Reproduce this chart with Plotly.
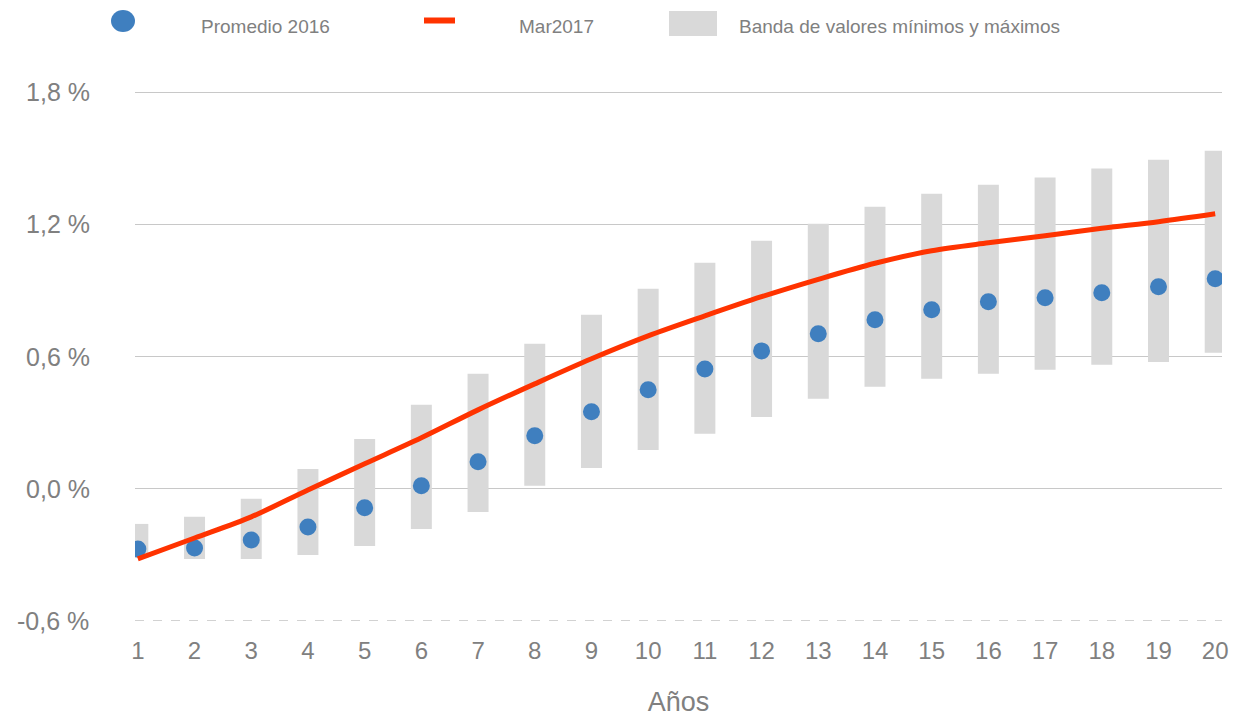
import plotly.graph_objects as go

years = list(range(1, 21))
promedio_2016 = [-0.273, -0.268, -0.232, -0.173, -0.086, 0.014, 0.123, 0.241, 0.350, 0.450,
                 0.545, 0.627, 0.705, 0.768, 0.814, 0.850, 0.868, 0.891, 0.918, 0.955]
mar_2017 = [-0.318, -0.223, -0.127, -0.005, 0.114, 0.232, 0.359, 0.477, 0.591, 0.695,
            0.786, 0.873, 0.952, 1.025, 1.082, 1.118, 1.150, 1.184, 1.214, 1.250]
band_min = [-0.314, -0.318, -0.318, -0.300, -0.259, -0.182, -0.105, 0.014, 0.095, 0.177,
            0.250, 0.327, 0.409, 0.464, 0.500, 0.523, 0.541, 0.564, 0.577, 0.618]
band_max = [-0.159, -0.127, -0.045, 0.091, 0.227, 0.382, 0.523, 0.659, 0.791, 0.909,
            1.027, 1.127, 1.205, 1.282, 1.341, 1.382, 1.414, 1.455, 1.495, 1.536]
y_tickvals = [-0.6, 0.0, 0.6, 1.2, 1.8]
y_ticktext = ["-0,6 %", "0,0 %", "0,6 %", "1,2 %", "1,8 %"]
x_title = "Años"
names = ["Promedio 2016", "Mar2017", "Banda de valores mínimos y máximos"]

band_height = [mx - mn for mn, mx in zip(band_min, band_max)]

FONT = "Liberation Sans, Arial, sans-serif"
GRAY_TXT = "#808080"
BLUE = "#3F7FBF"
RED = "#FF3300"
BAND = "#D9D9D9"

# the page body has an 8px margin, so the figure is sized/offset to fill the window
OFF = 8
W, H = 1239 - OFF, 717 - OFF
ML, MR, MT, MB = 135 - OFF, 17, 82, 96
PW, PH = W - ML - MR, H - MT - MB


def px(xp):
    # page pixel x -> paper x
    return (xp - OFF - ML) / PW


def py(yp):
    # page pixel y -> paper y
    return (H - MB - (yp - OFF)) / PH


fig = go.Figure()
fig.add_trace(go.Bar(
    x=years, y=band_height, base=band_min, width=0.37,
    marker=dict(color=BAND, line=dict(width=0)),
    name=names[2], hoverinfo="skip",
))
fig.add_trace(go.Scatter(
    x=years, y=promedio_2016, mode="markers",
    marker=dict(color=BLUE, size=17),
    name=names[0],
))
fig.add_trace(go.Scatter(
    x=years, y=mar_2017, mode="lines",
    line=dict(color=RED, width=5, shape="spline", smoothing=0.9),
    name=names[1],
))

# legend (symbols + labels) drawn in paper coordinates above the plot
legend_shapes = [
    dict(type="circle", xref="paper", yref="paper", x0=px(111), x1=px(135), y0=py(32), y1=py(10),
         fillcolor=BLUE, line=dict(width=0)),
    dict(type="line", xref="paper", yref="paper", x0=px(424), x1=px(455), y0=py(20.5), y1=py(20.5),
         line=dict(color=RED, width=6)),
    dict(type="rect", xref="paper", yref="paper", x0=px(669), x1=px(717), y0=py(36), y1=py(11),
         fillcolor=BAND, line=dict(width=0)),
]
legend_ann = [
    dict(xref="paper", yref="paper", x=px(xp), y=py(26), xanchor="left", yanchor="middle",
         text=t, showarrow=False, font=dict(size=19, color=GRAY_TXT, family=FONT))
    for xp, t in zip([199, 517, 737], names)
]

fig.update_layout(
    width=W, height=H,
    margin=dict(l=ML, r=MR, t=MT, b=MB, autoexpand=False),
    plot_bgcolor="white", paper_bgcolor="white",
    font=dict(family=FONT, color=GRAY_TXT),
    barmode="overlay",
    showlegend=False,
    xaxis=dict(
        range=[0.95, 20.12], tickmode="array", tickvals=years,
        ticktext=[str(v) for v in years],
        showgrid=False, zeroline=False, showline=False, ticks="",
        tickfont=dict(size=24, color=GRAY_TXT, family=FONT),
        ticklabelstandoff=13,
        title=dict(text=x_title, font=dict(size=27, color=GRAY_TXT, family=FONT), standoff=35),
    ),
    yaxis=dict(
        range=[-0.6, 1.812], tickmode="array", tickvals=y_tickvals[1:],
        ticktext=y_ticktext[1:],
        showgrid=True, gridcolor="#C8C8C8", gridwidth=1,
        zeroline=False, showline=False, ticks="",
        tickfont=dict(size=25, color=GRAY_TXT, family=FONT),
        ticklabelstandoff=44,
    ),
    shapes=[dict(type="line", xref="paper", yref="y", x0=0, x1=1, y0=-0.6, y1=-0.6,
                 line=dict(color="#A6A6A6", width=1.2, dash="dash"), layer="below")] + legend_shapes,
    annotations=[dict(xref="paper", yref="y", x=0, y=-0.6, xanchor="right", yanchor="middle",
                      xshift=-44, text=y_ticktext[0], showarrow=False,
                      font=dict(size=25, color=GRAY_TXT, family=FONT))] + legend_ann,
)

fig.write_html("out.html")
